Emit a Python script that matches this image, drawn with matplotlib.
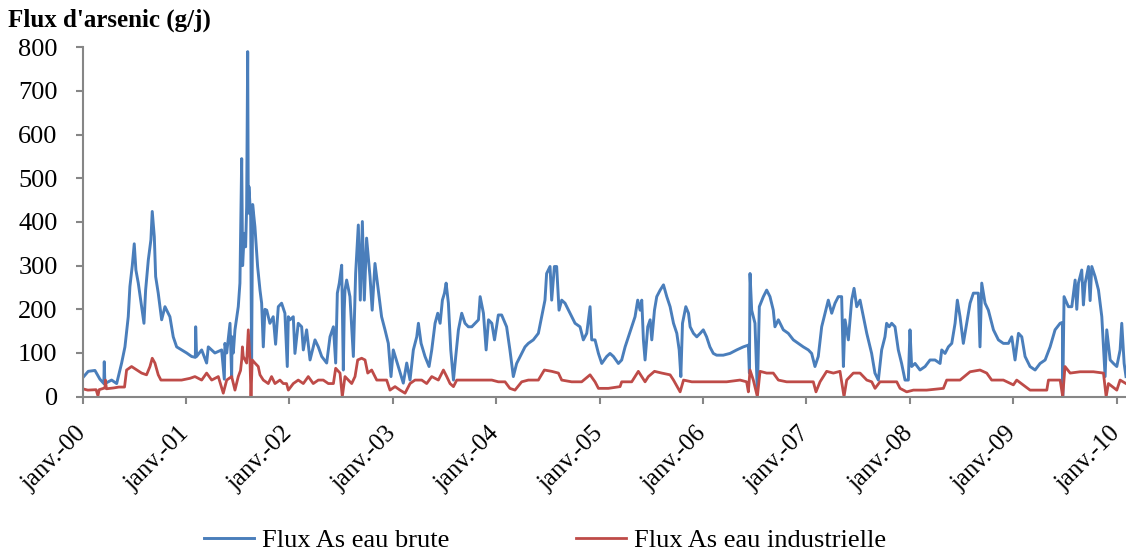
import matplotlib
matplotlib.use("Agg")
from matplotlib import pyplot as plt
from matplotlib.transforms import ScaledTranslation

# time in decimal years since janv.-2000, flux in g/j
t_brute = [0.0, 0.054, 0.119, 0.167, 0.205, 0.209, 0.215, 0.28, 0.329, 0.377, 0.409, 0.441, 0.457, 0.48, 0.499,
           0.515, 0.538, 0.57, 0.593, 0.609, 0.635, 0.66, 0.673, 0.693, 0.706, 0.731, 0.764, 0.796, 0.844, 0.876,
           0.909, 0.957,
           1.006, 1.054, 1.09, 1.093, 1.102, 1.151, 1.199, 1.215, 1.279, 1.344, 1.37, 1.376, 1.393, 1.425, 1.441,
           1.445, 1.457, 1.473, 1.505, 1.521, 1.538, 1.547, 1.563, 1.576, 1.586, 1.596, 1.602, 1.608, 1.625, 1.634,
           1.644, 1.666, 1.692, 1.715, 1.731, 1.747, 1.763, 1.78, 1.811, 1.843, 1.866, 1.892, 1.924, 1.956, 1.979,
           1.989,
           2.005, 2.037, 2.053, 2.085, 2.118, 2.134, 2.166, 2.199, 2.247, 2.279, 2.312, 2.36, 2.392, 2.425, 2.447,
           2.463, 2.482, 2.505, 2.515, 2.521, 2.53, 2.537, 2.553, 2.585, 2.618, 2.64, 2.666, 2.685, 2.705, 2.724,
           2.746, 2.779, 2.8, 2.827, 2.859, 2.891, 2.924, 2.956, 2.982,
           3.004, 3.053, 3.101, 3.134, 3.166, 3.198, 3.231, 3.247, 3.273, 3.311, 3.35, 3.376, 3.408, 3.434, 3.457,
           3.479, 3.499, 3.515, 3.537, 3.56, 3.586, 3.608, 3.634, 3.666, 3.698, 3.73, 3.763, 3.795, 3.828, 3.844,
           3.876, 3.902, 3.925, 3.957, 3.983,
           4.02, 4.052, 4.1, 4.132, 4.165, 4.197, 4.246, 4.278, 4.31, 4.358, 4.407, 4.439, 4.471, 4.487, 4.52,
           4.536, 4.562, 4.584, 4.607, 4.633, 4.665, 4.713, 4.762, 4.81, 4.842, 4.875, 4.907, 4.923, 4.955, 4.988,
           5.02, 5.068, 5.1, 5.133, 5.181, 5.213, 5.246, 5.278, 5.31, 5.342, 5.368, 5.391, 5.407, 5.423, 5.439,
           5.465, 5.488, 5.504, 5.53, 5.552, 5.585, 5.617, 5.649, 5.681, 5.714, 5.746, 5.769, 5.785, 5.801, 5.833,
           5.859, 5.875, 5.907, 5.939, 5.972,
           6.002, 6.034, 6.066, 6.099, 6.131, 6.195, 6.26, 6.325, 6.389, 6.438, 6.448, 6.454, 6.47, 6.502, 6.525,
           6.544, 6.583, 6.615, 6.647, 6.679, 6.695, 6.728, 6.776, 6.824, 6.873, 6.921, 6.969,
           7.018, 7.05, 7.082, 7.114, 7.147, 7.179, 7.211, 7.244, 7.276, 7.308, 7.34, 7.357, 7.373, 7.405, 7.437,
           7.46, 7.486, 7.518, 7.55, 7.583, 7.63, 7.662, 7.695, 7.727, 7.759, 7.775, 7.8, 7.824, 7.856, 7.888,
           7.92, 7.953, 7.985,
           8.001, 8.017, 8.05, 8.098, 8.147, 8.195, 8.243, 8.292, 8.308, 8.34, 8.372, 8.405, 8.437, 8.459, 8.485,
           8.517, 8.55, 8.582, 8.614, 8.662, 8.678, 8.695, 8.727, 8.759, 8.808, 8.856, 8.904, 8.953, 8.985,
           9.017, 9.05, 9.082, 9.114, 9.162, 9.211, 9.259, 9.308, 9.356, 9.404, 9.453, 9.475, 9.478, 9.491, 9.533,
           9.566, 9.598, 9.614, 9.63, 9.662, 9.678, 9.695, 9.727, 9.743, 9.759, 9.791, 9.824, 9.856, 9.888, 9.904,
           9.937, 9.969,
           10.001, 10.033, 10.049, 10.072, 10.09]
flux_brute = [43, 58, 60, 40, 30, 80, 30, 38, 30, 77, 114, 183, 252, 300, 350,
              290, 260, 206, 168, 244, 313, 359, 424, 366, 275, 237, 176, 206, 183, 137,
              114, 107,
              100, 92, 90, 160, 92, 107, 77, 114, 100, 107, 40, 122, 100, 168, 45,
              137, 100, 153, 206, 260, 545, 300, 374, 343, 435, 790, 420, 481, 412, 84,
              440, 389, 298, 244, 214, 114, 200, 198, 168, 183, 120, 206, 214, 191, 69,
              183,
              176, 183, 99, 168, 160, 107, 153, 84, 130, 114, 92, 77, 137, 160, 77,
              237, 260, 301, 150, 61, 200, 244, 267, 229, 92, 282, 393, 221, 401, 221,
              363, 275, 198, 305, 244, 183, 153, 122, 46,
              107, 69, 31, 77, 38, 107, 137, 168, 122, 92, 69, 107, 168, 191, 168,
              221, 237, 260, 214, 107, 38, 92, 153, 191, 168, 160, 160, 168, 176, 229,
              191, 107, 176, 168, 130,
              187, 187, 160, 107, 46, 76, 99, 114, 122, 130, 145, 183, 221, 282, 298,
              221, 298, 298, 198, 221, 214, 191, 168, 160, 130, 145, 206, 130, 130, 99,
              76, 92, 99, 92, 76, 84, 114, 137, 160, 183, 221, 198, 221, 130, 84,
              160, 176, 130, 198, 229, 244, 256, 229, 206, 168, 145, 107, 46, 168, 206,
              191, 160, 145, 137, 145,
              153, 137, 114, 99, 95, 95, 99, 107, 114, 118, 54, 282, 198, 168, 8,
              206, 229, 244, 229, 198, 160, 176, 153, 145, 130, 122, 114,
              107, 99, 69, 92, 160, 191, 221, 191, 214, 229, 229, 69, 176, 130, 221,
              248, 206, 221, 183, 145, 99, 54, 38, 107, 137, 168, 160, 168, 160, 107,
              76, 38, 38,
              153, 69, 76, 61, 69, 84, 84, 76, 107, 99, 114, 122, 168, 221, 183,
              122, 168, 214, 237, 237, 114, 260, 214, 198, 153, 130, 122, 122, 137,
              84, 145, 137, 92, 69, 61, 76, 84, 114, 153, 168, 170, 0, 229, 206,
              206, 267, 200, 260, 290, 210, 260, 298, 220, 298, 275, 244, 183, 46, 153,
              84, 76,
              69, 107, 168, 76, 46]

t_indus = [0.0, 0.05, 0.13, 0.148, 0.16, 0.215, 0.22, 0.23, 0.3, 0.35, 0.405, 0.425, 0.473, 0.57, 0.618,
           0.651, 0.673, 0.699, 0.731, 0.757, 0.812, 0.893, 0.957,
           1.038, 1.086, 1.151, 1.199, 1.248, 1.312, 1.36, 1.393, 1.441, 1.473, 1.505, 1.527, 1.538, 1.545, 1.553,
           1.586, 1.602, 1.618, 1.628, 1.64, 1.666, 1.698, 1.715, 1.747, 1.795, 1.827, 1.86, 1.908, 1.94, 1.972,
           1.989,
           2.037, 2.085, 2.134, 2.182, 2.23, 2.279, 2.327, 2.376, 2.425, 2.447, 2.489, 2.511, 2.537, 2.57, 2.602,
           2.634, 2.66, 2.698, 2.731, 2.757, 2.795, 2.844, 2.891, 2.94, 2.972,
           3.021, 3.069, 3.118, 3.166, 3.214, 3.279, 3.327, 3.376, 3.44, 3.489, 3.521, 3.553, 3.586, 3.618, 3.698,
           3.795, 3.892, 3.957,
           4.02, 4.085, 4.132, 4.181, 4.246, 4.31, 4.407, 4.465, 4.536, 4.601, 4.633, 4.729, 4.826, 4.907, 4.955,
           4.988,
           5.084, 5.197, 5.213, 5.31, 5.374, 5.407, 5.439, 5.471, 5.53, 5.601, 5.681, 5.714, 5.778, 5.811, 5.891,
           5.988,
           6.099, 6.228, 6.357, 6.421, 6.438, 6.454, 6.486, 6.525, 6.551, 6.615, 6.679, 6.728, 6.808, 6.937,
           7.066, 7.092, 7.131, 7.195, 7.26, 7.324, 7.363, 7.389, 7.453, 7.518, 7.583, 7.631, 7.663, 7.711, 7.776,
           7.873, 7.905, 7.969,
           8.034, 8.162, 8.324, 8.356, 8.485, 8.582, 8.678, 8.743, 8.791, 8.904,
           9.001, 9.033, 9.162, 9.324, 9.34, 9.453, 9.478, 9.5, 9.55, 9.646, 9.775, 9.872, 9.898, 9.92,
           10.001, 10.033, 10.09]
flux_indus = [18, 15, 16, 2, 16, 20, 38, 18, 20, 22, 22, 61, 69, 54, 50,
              69, 88, 77, 50, 38, 38, 38, 38,
              42, 46, 38, 54, 38, 46, 8, 38, 46, 15, 46, 60, 84, 114, 92,
              77, 153, 84, 0, 84, 77, 69, 50, 38, 30, 46, 30, 38, 30, 30,
              15,
              30, 38, 30, 46, 30, 38, 38, 30, 30, 65, 54, 0, 46, 38, 30,
              46, 84, 88, 84, 54, 61, 38, 38, 38, 15,
              23, 15, 8, 30, 38, 38, 30, 46, 38, 61, 46, 30, 23, 38, 38,
              38, 38, 38,
              34, 34, 19, 15, 34, 38, 38, 61, 58, 54, 38, 34, 34, 50, 34,
              19,
              19, 23, 34, 34, 58, 46, 34, 46, 58, 54, 50, 38, 11, 38, 34,
              34,
              34, 34, 38, 34, 11, 61, 38, 0, 58, 54, 54, 38, 34, 34,
              34, 11, 34, 58, 54, 58, 0, 38, 54, 54, 38, 34, 19, 34, 34,
              34, 19, 11,
              15, 15, 19, 38, 38, 57, 61, 54, 38, 38,
              27, 38, 15, 15, 38, 38, 0, 69, 54, 57, 57, 54, 0, 30,
              15, 38, 30]

year_ticks = list(range(11))
year_labels = ["janv.-%02d" % y for y in year_ticks]
y_ticks = list(range(0, 801, 100))

BLUE = "#4A7EBB"
RED = "#BE4B48"
GREY = "#868686"

plt.rcParams["font.family"] = ["Liberation Serif", "DejaVu Serif"]

fig = plt.figure(figsize=(11.26, 5.54), dpi=100)
ax = fig.add_axes([0.0734, 0.284, 0.9266, 0.6307])

ax.plot(t_brute, flux_brute, color=BLUE, lw=2.1, label="Flux As eau brute")
ax.plot(t_indus, flux_indus, color=RED, lw=2.0, label="Flux As eau industrielle")

ax.set_xlim(0, 10.09)
ax.set_ylim(0, 800)
ax.set_yticks(y_ticks)
ax.set_xticks(year_ticks)
ax.set_xticklabels(year_labels, rotation=45, ha="right", va="center", rotation_mode="anchor", fontsize=18)
# shift the rotated labels a bit to the left so their end sits under the tick
shift = ScaledTranslation(-7 / 100, 0, fig.dpi_scale_trans)
for lab in ax.get_xticklabels():
    lab.set_transform(lab.get_transform() + shift)

for s in ["top", "right"]:
    ax.spines[s].set_visible(False)
for s in ["left", "bottom"]:
    ax.spines[s].set_color(GREY)
    ax.spines[s].set_linewidth(1.5)
ax.tick_params(axis="both", direction="out", length=5, width=1.5, color=GREY)
ax.tick_params(axis="y", pad=13, labelsize=19)
ax.tick_params(axis="x", pad=19)

fig.text(8 / 1126, 1 - 27 / 554, "Flux d'arsenic (g/j)", fontsize=18, fontweight="bold", va="baseline")

fig.legend(loc="center", bbox_to_anchor=(0.484, 0.024), ncol=2, frameon=False, fontsize=19,
           handlelength=1.9, handletextpad=0.3, columnspacing=4.8)

fig.savefig("out.png", dpi=100)
